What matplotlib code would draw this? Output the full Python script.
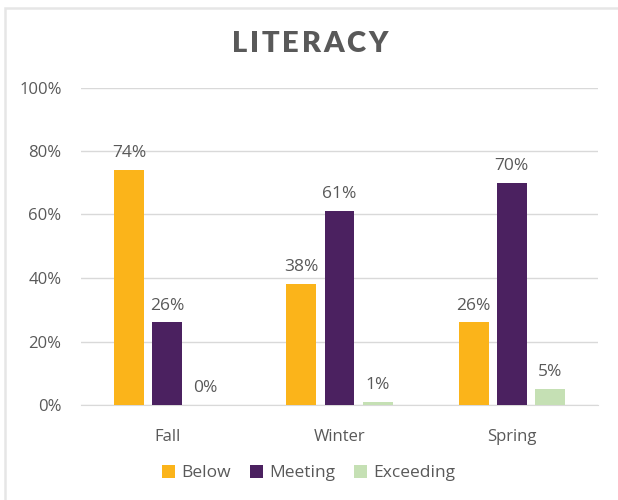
import matplotlib
matplotlib.use("Agg")
import matplotlib.pyplot as plt
import numpy as np
from matplotlib.patches import Rectangle
from matplotlib.font_manager import FontProperties

categories = ["Fall", "Winter", "Spring"]
series_names = ["Below", "Meeting", "Exceeding"]
below = [74, 38, 26]
meeting = [26, 61, 70]
exceeding = [0, 1, 5]
yticks = [0, 20, 40, 60, 80, 100]
title = "LITERACY"
colors = ["#FBB41A", "#4B2160", "#C5E0B4"]
text_color = "#595959"

plt.rcParams['font.family'] = ['Open Sans', 'DejaVu Sans']

fig = plt.figure(figsize=(6.18, 5.0), dpi=100)
W, H = 618, 500
ax = fig.add_axes([81 / W, (H - 405) / H, (598 - 81) / W, (405 - 87.5) / H])

# chart border
fig.patches.append(Rectangle((5 / W, -0.1), 1.2, (H - 8) / H + 0.1, transform=fig.transFigure,
                             fill=False, edgecolor="#E6E6E6", linewidth=1.8, zorder=0))

x = np.arange(len(categories))
width = 0.174
step = 0.222
for i, (name, vals) in enumerate(zip(series_names, [below, meeting, exceeding])):
    pos = x + (i - 1) * step
    ax.bar(pos, vals, width=width, color=colors[i], label=name, zorder=3)
    for px, v in zip(pos, vals):
        ax.text(px, v + 2.8, f"{v}%", ha="center", va="bottom", fontsize=12.5, color=text_color)

ax.set_xlim(-0.5, 2.5)
ax.set_ylim(0, 100)
ax.set_yticks(yticks)
ax.set_yticklabels([f"{t}%" for t in yticks], fontsize=12, color=text_color)
ax.set_xticks(x)
ax.set_xticklabels(categories, fontsize=12, color=text_color)
ax.tick_params(axis="x", length=0, pad=17)
ax.tick_params(axis="y", length=0, pad=14)
ax.grid(axis="y", color="#D9D9D9", linewidth=1, zorder=0)
for s in ["top", "right", "left"]:
    ax.spines[s].set_visible(False)
ax.spines["bottom"].set_color("#D9D9D9")

# letter-spaced title
fp = FontProperties(family=["Lato", "DejaVu Sans"], weight="heavy", size=21)
renderer = fig.canvas.get_renderer()
widths = [renderer.get_text_width_height_descent(ch, fp, ismath=False)[0] for ch in title]
target = 155.0
track = (target - sum(widths)) / (len(title) - 1)
xpos = 310 - target / 2
for ch, w in zip(title, widths):
    fig.text(xpos / W, (H - 42) / H, ch, ha="left", va="center_baseline", fontproperties=fp,
             color=text_color)
    xpos += w + track

leg = fig.legend(loc="center", bbox_to_anchor=(0.5, (H - 473) / H), ncol=3, frameon=False,
                 fontsize=12.5, handlelength=0.75, handleheight=0.75, handletextpad=0.35,
                 columnspacing=1.1)
for t in leg.get_texts():
    t.set_color(text_color)

fig.savefig("out.png", dpi=100)
